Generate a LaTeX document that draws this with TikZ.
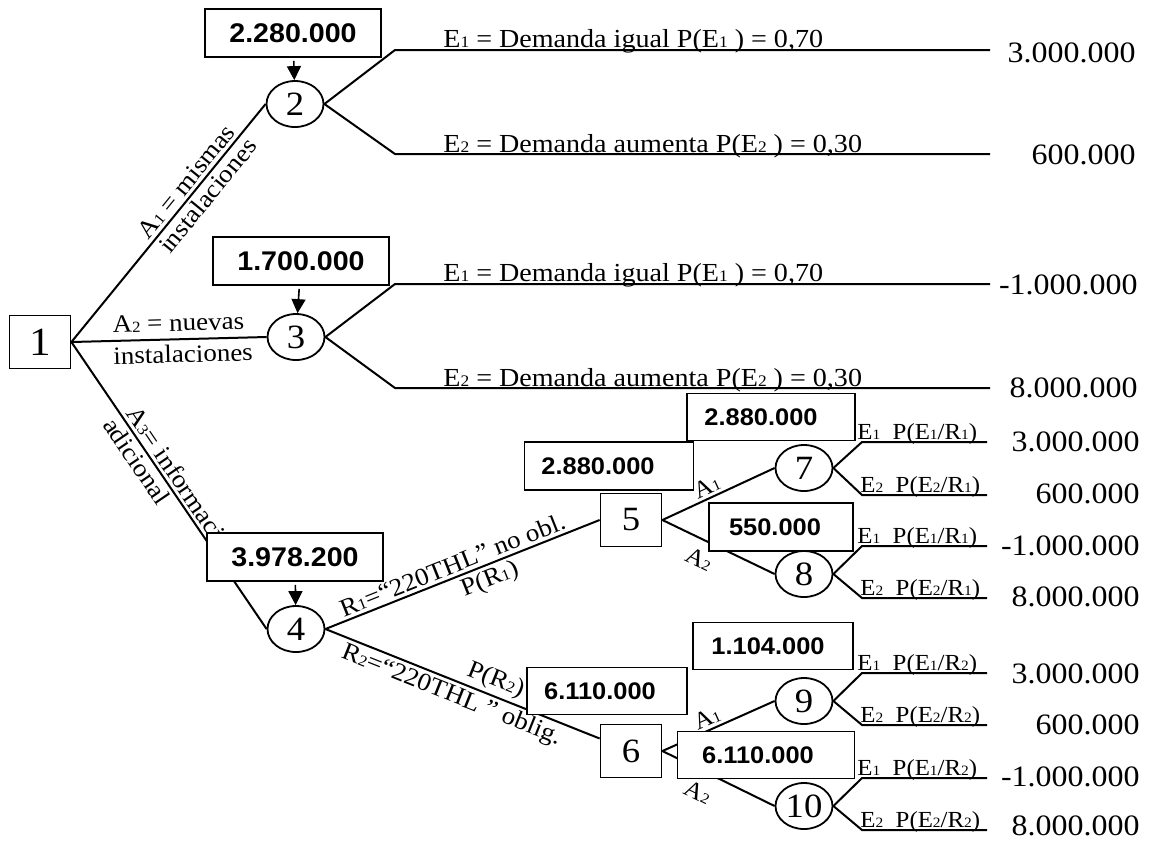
\documentclass[tikz,border=0pt]{standalone}
\usepackage{fontspec}
\setmainfont{Liberation Serif}[FakeStretch=1.08]
\newfontfamily\valfont{Liberation Sans}[FakeStretch=1.06]
\usetikzlibrary{shapes.geometric, arrows.meta}
\newcommand{\ix}[1]{\scalebox{0.62}{#1}}

\tikzset{
  decision/.style={draw, line width=0.9pt, minimum width=30.5pt, minimum height=26.5pt, inner sep=0pt, font=\fontsize{17}{17}\selectfont},
  chance/.style={draw, ellipse, line width=0.9pt, minimum width=28.5pt, minimum height=23pt, inner sep=0pt, font=\fontsize{17}{17}\selectfont},
  valbox/.style={draw, line width=0.8pt, fill=white, inner sep=0pt, font=\valfont\bfseries\fontsize{12}{12}\selectfont},
  bigval/.style={valbox, minimum width=88pt, minimum height=24pt, font=\valfont\bfseries\fontsize{13.5}{13.5}\selectfont},
  branch/.style={line width=1pt},
  brlabel/.style={sloped, inner sep=1.5pt, font=\fontsize{12.5}{12.5}\selectfont},
  altlabel/.style={sloped, inner sep=1.5pt, font=\fontsize{12}{12}\selectfont},
  evlabel/.style={anchor=base west, inner sep=0pt, font=\fontsize{13}{13}\selectfont},
  sublabel/.style={anchor=base west, inner sep=0pt, font=\fontsize{11.5}{11.5}\selectfont},
  payoff/.style={anchor=east, inner sep=0pt, font=\fontsize{14.8}{15}\selectfont},
  valarrow/.style={-{Triangle[length=7pt,width=7pt]}, line width=0.8pt, shorten <=1.5pt}
}

\begin{document}
\begin{tikzpicture}[x=0.5pt, y=-0.5pt]
\useasboundingbox (0,0) rectangle (1151,843);

\node[decision, font=\fontsize{20}{20}\selectfont] (n1) at (40,342) {1};
\node[chance] (n2) at (295,104) {2};
\node[chance] (n3) at (296,337) {3};
\node[chance] (n4) at (296,629) {4};
\node[decision] (n5) at (631,520) {5};
\node[decision] (n6) at (631,751) {6};
\node[chance] (n7) at (804,468) {7};
\node[chance] (n8) at (804,574) {8};
\node[chance] (n9) at (804,701) {9};
\node[chance] (n10) at (804,806) {10};

\coordinate (c2a) at (395,50);  \coordinate (e2a) at (990,50);
\coordinate (c2b) at (395,154); \coordinate (e2b) at (990,154);
\coordinate (c3a) at (395,284); \coordinate (e3a) at (990,284);
\coordinate (c3b) at (395,388); \coordinate (e3b) at (990,388);
\coordinate (c7a) at (862,442); \coordinate (e7a) at (987,442);
\coordinate (c7b) at (862,495); \coordinate (e7b) at (987,495);
\coordinate (c8a) at (862,546); \coordinate (e8a) at (987,546);
\coordinate (c8b) at (862,598); \coordinate (e8b) at (987,598);
\coordinate (c9a) at (862,673); \coordinate (e9a) at (987,673);
\coordinate (c9b) at (862,725); \coordinate (e9b) at (987,725);
\coordinate (c10a) at (862,778); \coordinate (e10a) at (987,778);
\coordinate (c10b) at (862,830); \coordinate (e10b) at (987,830);

\draw[branch] (n1.east) -- (n2.west)
  node[brlabel, pos=0.64, above] {A\ix{1} = mismas}
  node[brlabel, pos=0.65, below] {instalaciones};
\draw[branch] (n1.east) -- (n3.west)
  node[brlabel, pos=0.55, above=2pt] {A\ix{2} = nuevas}
  node[brlabel, pos=0.57, below=1pt] {instalaciones};
\draw[branch] (n1.east) -- (n4.west)
  node[brlabel, pos=0.52, above] {A\ix{3}= información}
  node[brlabel, pos=0.39, below] {adicional};

\draw[branch] (n2.east) -- (c2a) -- (e2a);
\draw[branch] (n2.east) -- (c2b) -- (e2b);
\draw[branch] (n3.east) -- (c3a) -- (e3a);
\draw[branch] (n3.east) -- (c3b) -- (e3b);

\node[evlabel] at (443,47) {E\ix{1} = Demanda igual P(E\ix{1} ) = 0,70};
\node[evlabel] at (443,152) {E\ix{2} = Demanda aumenta P(E\ix{2} ) = 0,30};
\node[evlabel] at (443,281) {E\ix{1} = Demanda igual P(E\ix{1} ) = 0,70};
\node[evlabel] at (443,386) {E\ix{2} = Demanda aumenta P(E\ix{2} ) = 0,30};

\draw[branch] (n4.east) -- (n5.west)
  node[brlabel, pos=0.48, above] {R\ix{1}=“220THL” no obl.}
  node[brlabel, pos=0.58, below] {P(R\ix{1})};
\draw[branch] (n4.east) -- (n6)
  node[brlabel, pos=0.48, below] {R\ix{2}=“220THL ” oblig.}
  node[brlabel, pos=0.60, above] {P(R\ix{2})};

\draw[branch] (n5.east) -- (n7.west) node[altlabel, pos=0.44, above] {A\ix{1}};
\draw[branch] (n5.east) -- (n8.west) node[altlabel, pos=0.40, below=3.5pt] {A\ix{2}};
\draw[branch] (n6.east) -- (n9.west) node[altlabel, pos=0.44, above] {A\ix{1}};
\draw[branch] (n6.east) -- (n10.west) node[altlabel, pos=0.40, below=4.5pt] {A\ix{2}};

\draw[branch] (n7.east) -- (c7a) -- (e7a);
\draw[branch] (n7.east) -- (c7b) -- (e7b);
\draw[branch] (n8.east) -- (c8a) -- (e8a);
\draw[branch] (n8.east) -- (c8b) -- (e8b);
\draw[branch] (n9.east) -- (c9a) -- (e9a);
\draw[branch] (n9.east) -- (c9b) -- (e9b);
\draw[branch] (n10.east) -- (c10a) -- (e10a);
\draw[branch] (n10.east) -- (c10b) -- (e10b);

\node[sublabel] at (857,439) {E\ix{1}\ \ P(E\ix{1}/R\ix{1})};
\node[sublabel] at (860,492) {E\ix{2}\ \ P(E\ix{2}/R\ix{1})};
\node[sublabel] at (857,543) {E\ix{1}\ \ P(E\ix{1}/R\ix{1})};
\node[sublabel] at (860,595) {E\ix{2}\ \ P(E\ix{2}/R\ix{1})};
\node[sublabel] at (857,670) {E\ix{1}\ \ P(E\ix{1}/R\ix{2})};
\node[sublabel] at (860,722) {E\ix{2}\ \ P(E\ix{2}/R\ix{2})};
\node[sublabel] at (857,775) {E\ix{1}\ \ P(E\ix{1}/R\ix{2})};
\node[sublabel] at (860,827) {E\ix{2}\ \ P(E\ix{2}/R\ix{2})};

\node[payoff] (p1) at (1136,53) {3.000.000};
\node[payoff] (p2) at (1136,155) {600.000};
\node[payoff] (p3) at (1138,285) {-1.000.000};
\node[payoff] (p4) at (1138,388) {8.000.000};
\node[payoff] (p5) at (1140,442) {3.000.000};
\node[payoff] (p6) at (1140,494) {600.000};
\node[payoff] (p7) at (1140,546) {-1.000.000};
\node[payoff] (p8) at (1140,597) {8.000.000};
\node[payoff] (p9) at (1140,674) {3.000.000};
\node[payoff] (p10) at (1140,725) {600.000};
\node[payoff] (p11) at (1140,777) {-1.000.000};
\node[payoff] (p12) at (1140,826) {8.000.000};

\node[bigval] (v2) at (293,33) {2.280.000};
\node[bigval] (v3) at (301,261) {1.700.000};
\node[bigval] (v4) at (295,557) {3.978.200};
\node[valbox, minimum width=84pt, minimum height=23.5pt] (v7) at (771,417) {2.880.000\hspace*{10pt}};
\node[valbox, minimum width=84.5pt, minimum height=24pt] (v5) at (609,466) {2.880.000\hspace*{11pt}};
\node[valbox, minimum width=72pt, minimum height=24pt] (v8) at (781,527) {550.000\hspace*{6pt}};
\node[valbox, minimum width=80pt, minimum height=23.5pt] (v9) at (773,646) {1.104.000\hspace*{5pt}};
\node[valbox, minimum width=80pt, minimum height=23.5pt] (v6) at (607,691) {6.110.000\hspace*{7pt}};
\node[valbox, minimum width=88.5pt, minimum height=23.5pt] (v10) at (766,755) {6.110.000\hspace*{8pt}};

\draw[valarrow] (v2) -- (n2);
\draw[valarrow] (v3) -- (n3);
\draw[valarrow] (v4) -- (n4);
\end{tikzpicture}
\end{document}
